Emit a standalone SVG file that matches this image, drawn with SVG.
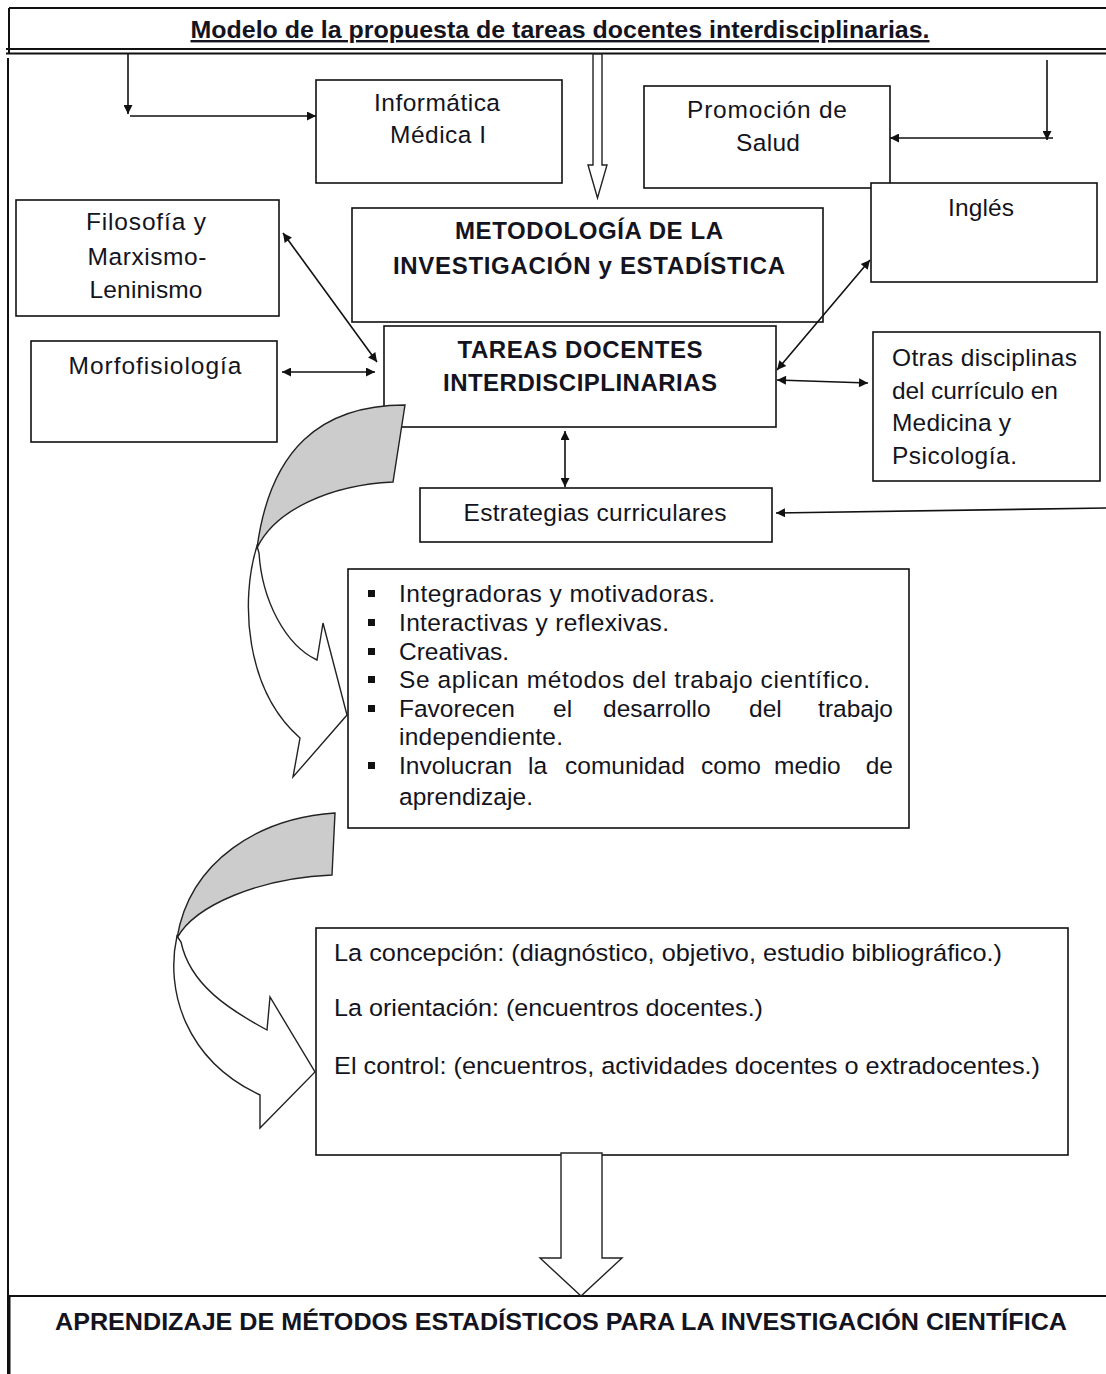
<svg xmlns="http://www.w3.org/2000/svg" width="1106" height="1374" viewBox="0 0 1106 1374">
<style>
  .box { fill: #fff; stroke: #111; stroke-width: 1.6; }
  .t { font-family: "Liberation Sans", Arial, sans-serif; font-size: 24.5px; fill: #141420; }
  .b { font-family: "Liberation Sans", Arial, sans-serif; font-size: 24px; font-weight: bold; fill: #141420; }
  .c { text-anchor: middle; }
  .e { text-anchor: end; }
  .ln { fill: none; stroke: #111; stroke-width: 1.6; }
  .hollow { fill: #fff; stroke: #222; stroke-width: 1.4; }
  .gray { fill: #cccccc; stroke: #222; stroke-width: 1.4; }
  .frame { fill: none; stroke: #111; stroke-width: 2; }
</style>
<defs>
  <marker id="ah" viewBox="0 0 10 10" refX="10" refY="5" markerWidth="12" markerHeight="9" markerUnits="userSpaceOnUse" orient="auto-start-reverse">
    <path d="M0,0 L10,5 L0,10 Z" fill="#111"/>
  </marker>
</defs>
<rect width="1106" height="1374" fill="#fff"/>

<g id="header">
  <path class="frame" d="M9,8 H1106 M9,8 V53 M6,49 H1106 M6,53.5 H1106"/>
  <text class="b c" x="560" y="38" font-size="22" textLength="739" lengthAdjust="spacingAndGlyphs" text-decoration="underline">Modelo de la propuesta de tareas docentes interdisciplinarias.</text>
</g>
<g id="frame-left">
  <path class="frame" d="M8,58 V1374"/>
</g>

<g id="n-informatica">
  <rect class="box" x="316" y="80" width="246" height="103"/>
  <text class="t c" x="437" y="111" textLength="126" lengthAdjust="spacing">Informática</text>
  <text class="t c" x="438" y="143" textLength="96" lengthAdjust="spacing">Médica I</text>
</g>
<g id="n-promocion">
  <rect class="box" x="644" y="86" width="246" height="102"/>
  <text class="t c" x="767" y="118" textLength="160" lengthAdjust="spacing">Promoción de</text>
  <text class="t c" x="768" y="151" textLength="64" lengthAdjust="spacing">Salud</text>
</g>
<g id="n-ingles">
  <rect class="box" x="871" y="183" width="226" height="99"/>
  <text class="t c" x="981" y="216" textLength="66" lengthAdjust="spacing">Inglés</text>
</g>
<g id="n-filosofia">
  <rect class="box" x="16" y="200" width="263" height="116"/>
  <text class="t c" x="146" y="230" textLength="120" lengthAdjust="spacing">Filosofía y</text>
  <text class="t c" x="147" y="265" textLength="119" lengthAdjust="spacing">Marxismo-</text>
  <text class="t c" x="146" y="298" textLength="113" lengthAdjust="spacing">Leninismo</text>
</g>
<g id="n-morfo">
  <rect class="box" x="31" y="341" width="246" height="101"/>
  <text class="t c" x="155" y="374" textLength="173" lengthAdjust="spacing">Morfofisiología</text>
</g>
<g id="n-metodologia">
  <rect class="box" x="352" y="208" width="471" height="114"/>
  <text class="b c" x="589" y="239" textLength="268" lengthAdjust="spacing">METODOLOGÍA DE LA</text>
  <text class="b c" x="589" y="274" textLength="392" lengthAdjust="spacing">INVESTIGACIÓN y ESTADÍSTICA</text>
</g>
<g id="n-tareas">
  <rect class="box" x="384" y="326" width="392" height="101"/>
  <text class="b c" x="580" y="358" textLength="245" lengthAdjust="spacing">TAREAS DOCENTES</text>
  <text class="b c" x="580" y="391" textLength="274" lengthAdjust="spacing">INTERDISCIPLINARIAS</text>
</g>
<g id="n-otras">
  <rect class="box" x="873" y="332" width="227" height="149"/>
  <text class="t" x="892" y="366" textLength="185" lengthAdjust="spacing">Otras disciplinas</text>
  <text class="t" x="892" y="399" textLength="166" lengthAdjust="spacing">del currículo en</text>
  <text class="t" x="892" y="431" textLength="119" lengthAdjust="spacing">Medicina y</text>
  <text class="t" x="892" y="464" textLength="125" lengthAdjust="spacing">Psicología.</text>
</g>
<g id="n-estrategias">
  <rect class="box" x="420" y="488" width="352" height="54"/>
  <text class="t c" x="595" y="521" textLength="263" lengthAdjust="spacing">Estrategias curriculares</text>
</g>
<g id="n-caracteristicas">
  <rect class="box" x="348" y="569" width="561" height="259"/>
  <g fill="#111">
    <rect x="368" y="590" width="7" height="7"/>
    <rect x="368" y="619" width="7" height="7"/>
    <rect x="368" y="648" width="7" height="7"/>
    <rect x="368" y="676" width="7" height="7"/>
    <rect x="368" y="705" width="7" height="7"/>
    <rect x="368" y="762" width="7" height="7"/>
  </g>
  <text class="t" x="399" y="602" textLength="316" lengthAdjust="spacing">Integradoras y motivadoras.</text>
  <text class="t" x="399" y="631" textLength="270" lengthAdjust="spacing">Interactivas y reflexivas.</text>
  <text class="t" x="399" y="660" textLength="110" lengthAdjust="spacing">Creativas.</text>
  <text class="t" x="399" y="688" textLength="471" lengthAdjust="spacing">Se aplican métodos del trabajo científico.</text>
  <text class="t" y="717"><tspan x="399">Favorecen</tspan><tspan x="553">el</tspan><tspan x="603">desarrollo</tspan><tspan x="749">del</tspan></text>
  <text class="t e" x="893" y="717">trabajo</text>
  <text class="t" x="399" y="745" textLength="164" lengthAdjust="spacing">independiente.</text>
  <text class="t" y="774"><tspan x="399">Involucran</tspan><tspan x="528">la</tspan><tspan x="565">comunidad</tspan><tspan x="701">como</tspan><tspan x="774">medio</tspan></text>
  <text class="t e" x="893" y="774">de</text>
  <text class="t" x="399" y="805" textLength="134" lengthAdjust="spacing">aprendizaje.</text>
</g>
<g id="n-etapas">
  <rect class="box" x="316" y="928" width="752" height="227"/>
  <text class="t" x="334" y="961" font-size="24" textLength="668" lengthAdjust="spacingAndGlyphs">La concepción: (diagnóstico, objetivo, estudio bibliográfico.)</text>
  <text class="t" x="334" y="1016" font-size="24" textLength="429" lengthAdjust="spacingAndGlyphs">La orientación: (encuentros  docentes.)</text>
  <text class="t" x="334" y="1074" font-size="24" textLength="706" lengthAdjust="spacingAndGlyphs">El control: (encuentros, actividades docentes o extradocentes.)</text>
</g>
<g id="n-aprendizaje">
  <path class="frame" d="M9,1296 H1106"/>
  <path fill="none" stroke="#111" stroke-width="3" d="M9,1296 V1374"/>
  <text class="b" x="55" y="1330" font-size="25" textLength="1012" lengthAdjust="spacingAndGlyphs">APRENDIZAJE DE MÉTODOS ESTADÍSTICOS PARA LA INVESTIGACIÓN CIENTÍFICA</text>
</g>

<g id="connectors">
  <path class="ln" d="M128,53 V114" marker-end="url(#ah)"/>
  <path class="ln" d="M130,116 H316" marker-end="url(#ah)"/>
  <path class="ln" d="M1047,60 V140" marker-end="url(#ah)"/>
  <path class="ln" d="M1053,138 H890" marker-end="url(#ah)"/>
  <path class="hollow" d="M593,54 L602,54 L602,165 L607,165 L597.5,198 L588,165 L593,165 Z"/>
  <path class="ln" d="M283,233 L377,362" marker-start="url(#ah)" marker-end="url(#ah)"/>
  <path class="ln" d="M282,372 L375,372" marker-start="url(#ah)" marker-end="url(#ah)"/>
  <path class="ln" d="M870,260 L777,370" marker-start="url(#ah)" marker-end="url(#ah)"/>
  <path class="ln" d="M777,380 L868,383" marker-start="url(#ah)" marker-end="url(#ah)"/>
  <path class="ln" d="M565,431 L565,487" marker-start="url(#ah)" marker-end="url(#ah)"/>
  <path class="ln" d="M1106,508 L776,513" marker-end="url(#ah)"/>
  <g id="curve-arrow-1">
    <path class="gray" d="M405,405 C320,405 270,450 257,548 C275,510 330,485 393,482 Z"/>
    <path class="hollow" d="M257,546 C240,600 245,690 300,738 L293,777 L347,715 L323,623 L317,660 C285,645 262,600 259,553 Z"/>
  </g>
  <g id="curve-arrow-2">
    <path class="gray" d="M335,813 C260,818 190,860 177,938 C195,905 260,878 332,875 Z"/>
    <path class="hollow" d="M177,936 C165,990 185,1060 260,1095 L260,1128 L315,1072 L270,997 L267,1030 C230,1010 190,985 181,942 Z"/>
  </g>
  <path class="hollow" d="M561,1153 L602,1153 L602,1258 L622,1258 L581,1296 L540,1258 L561,1258 Z"/>
</g>
</svg>
